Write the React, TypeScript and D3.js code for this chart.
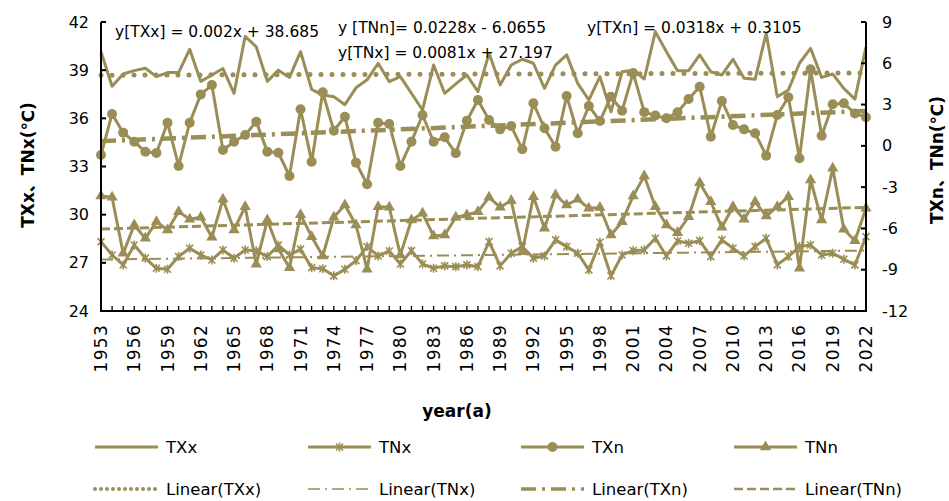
import React from 'react';
import * as d3 from 'd3';

// years on the category axis
const years = d3.range(1953, 2023);
const labelYears = years.filter((_, i) => i % 3 === 0);

// left axis series
const txx = [
  40.15, 38.0, 38.76, 38.97, 39.12, 38.6, 38.85, 38.85, 40.3, 38.3,
  38.7, 39.1, 37.56, 41.1, 40.46, 38.3, 39.0, 38.55, 40.15, 37.8,
  37.45, 37.35, 36.85, 37.9, 38.4, 39.43, 38.28, 38.6, 37.56, 36.52,
  39.32, 37.56, 38.14, 38.7, 37.66, 40.05, 38.08, 39.32, 39.68, 39.43,
  37.87, 39.32, 39.95, 38.18, 37.14, 38.6, 36.4, 38.9, 39.0, 38.45,
  41.4, 40.15, 38.97, 38.97, 39.95, 38.9, 38.7, 39.68, 38.5, 38.43,
  41.3, 37.35, 37.77, 39.43, 40.36, 38.55, 38.76, 37.87, 37.2, 40.46,
];
const tnx = [
  28.32, 27.49, 26.87, 28.11, 27.29, 26.66, 26.6, 27.39, 27.91, 27.49,
  27.18, 27.8, 27.29, 27.8, 27.75, 27.39, 28.1, 27.49, 27.85, 26.7,
  26.63, 26.19, 26.6, 27.14, 28.01, 27.43, 27.74, 26.93, 27.76, 26.93,
  26.66, 26.81, 26.76, 26.87, 26.76, 28.32, 26.81, 27.6, 28.01, 27.29,
  27.43, 28.43, 28.01, 27.6, 26.56, 28.28, 26.19, 27.49, 27.76, 27.8,
  28.53, 27.43, 28.36, 28.22, 28.38, 27.39, 28.43, 27.91, 27.43, 28.01,
  28.53, 26.87, 27.39, 28.01, 28.11, 27.49, 27.6, 27.22, 26.87, 28.63,
];

// right axis series
const txn = [
  -0.66, 2.32, 0.96, 0.3, -0.43, -0.52, 1.68, -1.46, 1.68, 3.74,
  4.42, -0.3, 0.3, 0.79, 1.76, -0.42, -0.5, -2.19, 2.66, -1.15,
  3.89, 1.1, 2.12, -1.22, -2.79, 1.68, 1.59, -1.46, 0.3, 2.24,
  0.3, 0.62, -0.54, 1.83, 3.33, 1.88, 1.2, 1.44, -0.25, 3.09,
  1.28, -0.06, 3.62, 0.91, 2.9, 1.8, 3.57, 2.55, 5.3, 2.45,
  2.2, 2.0, 2.44, 3.41, 4.3, 0.67, 3.26, 1.52, 1.2, 0.91,
  -0.71, 2.24, 3.53, -0.9, 5.56, 0.74, 3.02, 3.09, 2.36, 2.08,
];
const tnn = [
  -3.64, -3.74, -7.81, -5.75, -6.72, -5.51, -6.11, -4.78, -5.34, -5.19,
  -6.64, -3.88, -6.11, -4.42, -8.6, -5.39, -7.5, -8.85, -5.0, -6.6,
  -8.0, -5.19, -4.3, -5.75, -8.97, -4.42, -4.46, -7.93, -5.39, -4.9,
  -6.55, -6.48, -5.19, -5.02, -4.78, -3.74, -4.46, -3.98, -7.69, -3.69,
  -5.99, -3.57, -4.3, -3.88, -4.54, -4.48, -6.48, -5.51, -3.64, -2.19,
  -4.42, -5.75, -6.31, -5.15, -2.68, -4.06, -5.92, -4.42, -5.34, -4.06,
  -5.1, -4.42, -3.69, -8.9, -2.48, -5.39, -1.63, -6.06, -6.89, -4.54,
];

// trend equations shown on the chart, slope and intercept, x = 1..70
const trendTXx = [0.002, 38.685];
const trendTNx = [0.0081, 27.197];
const trendTXn = [0.0318, 0.3105];
const trendTNn = [0.0228, -6.0655];

const leftTicks = [24, 27, 30, 33, 36, 39, 42];
const rightTicks = [-12, -9, -6, -3, 0, 3, 6, 9];

const color = '#9A8D55';
const font = '"DejaVu Sans", "Noto Sans CJK SC", sans-serif';

const starPath = 'M-3.5,-3.5L3.5,3.5M-3.5,3.5L3.5,-3.5M0,-4.5L0,4.5';
const triPath = d3.symbol(d3.symbolTriangle, 55)()!;

const styles = {
  lTXx: { width: 5, dash: '0 11', cap: 'round' },
  lTNx: { width: 2, dash: '12 5 2 5', cap: 'butt' },
  lTXn: { width: 4.5, dash: '15 6 3 6', cap: 'butt' },
  lTNn: { width: 3, dash: '9 4', cap: 'butt' },
};

export default function App() {
  const x = d3.scalePoint<number>().domain(years).range([101, 866]);
  const yL = d3.scaleLinear().domain([24, 42]).range([311, 22]);
  const yR = d3.scaleLinear().domain([-12, 9]).range([311, 22]);

  const path = (vals: number[], y: d3.ScaleLinear<number, number>) =>
    d3.line<number>().x((_, i) => x(years[i])!).y(d => y(d))(vals)!;

  const trend = (c: number[], y: d3.ScaleLinear<number, number>) => {
    const n = years.length;
    return d3.line()([
      [x(years[0])!, y(c[0] * 1 + c[1])],
      [x(years[n - 1])!, y(c[0] * n + c[1])],
    ])!;
  };

  const legendCols = [95, 308, 521, 734];
  const legendRow1 = [
    { label: 'TXx', marker: null },
    { label: 'TNx', marker: 'star' },
    { label: 'TXn', marker: 'circle' },
    { label: 'TNn', marker: 'tri' },
  ];
  const legendRow2 = [
    { label: 'Linear(TXx)', st: styles.lTXx },
    { label: 'Linear(TNx)', st: styles.lTNx },
    { label: 'Linear(TXn)', st: styles.lTXn },
    { label: 'Linear(TNn)', st: styles.lTNn },
  ];

  const drawMarker = (kind: string | null, cx: number, cy: number, key: string | number) => {
    if (kind === 'star')
      return <path key={key} d={starPath} transform={`translate(${cx},${cy})`} stroke={color} strokeWidth={1.6} fill="none" />;
    if (kind === 'circle') return <circle key={key} cx={cx} cy={cy} r={5} fill={color} />;
    if (kind === 'tri') return <path key={key} d={triPath} transform={`translate(${cx},${cy})`} fill={color} />;
    return null;
  };

  return (
    <svg width={949} height={501} style={{ position: 'absolute', left: 0, top: 0, background: '#fff' }} fontFamily={font}>
      <rect width={949} height={501} fill="#fff" />

      {/* trend lines */}
      <path d={trend(trendTXx, yL)} stroke={color} fill="none" strokeWidth={styles.lTXx.width} strokeDasharray={styles.lTXx.dash} strokeLinecap="round" />
      <path d={trend(trendTNx, yL)} stroke={color} fill="none" strokeWidth={styles.lTNx.width} strokeDasharray={styles.lTNx.dash} />
      <path d={trend(trendTXn, yR)} stroke={color} fill="none" strokeWidth={styles.lTXn.width} strokeDasharray={styles.lTXn.dash} />
      <path d={trend(trendTNn, yR)} stroke={color} fill="none" strokeWidth={styles.lTNn.width} strokeDasharray={styles.lTNn.dash} />

      {/* series */}
      <path d={path(txx, yL)} stroke={color} fill="none" strokeWidth={3} strokeLinejoin="round" />
      <path d={path(tnx, yL)} stroke={color} fill="none" strokeWidth={3} strokeLinejoin="round" />
      {tnx.map((v, i) => drawMarker('star', x(years[i])!, yL(v), 'sx' + i))}
      <path d={path(txn, yR)} stroke={color} fill="none" strokeWidth={3} strokeLinejoin="round" />
      {txn.map((v, i) => drawMarker('circle', x(years[i])!, yR(v), 'cx' + i))}
      <path d={path(tnn, yR)} stroke={color} fill="none" strokeWidth={3} strokeLinejoin="round" />
      {tnn.map((v, i) => drawMarker('tri', x(years[i])!, yR(v), 'tx' + i))}

      {/* axes */}
      <g stroke="#000" strokeWidth={2} fill="none">
        <line x1={101} x2={101} y1={22} y2={311} />
        <line x1={866} x2={866} y1={22} y2={311} />
        <line x1={100} x2={867} y1={311} y2={311} />
        {leftTicks.map(t => <line key={'lt' + t} x1={101} x2={106} y1={yL(t)} y2={yL(t)} />)}
        {rightTicks.map(t => <line key={'rt' + t} x1={861} x2={866} y1={yR(t)} y2={yR(t)} />)}
        {years.map(yv => <line key={'bt' + yv} x1={x(yv)} x2={x(yv)} y1={311} y2={306} strokeWidth={1.3} />)}
      </g>

      {leftTicks.map(t => (
        <text key={'ll' + t} x={89} y={yL(t)} textAnchor="end" dominantBaseline="central" fontSize={16}>{t}</text>
      ))}
      {rightTicks.map(t => (
        <text key={'rl' + t} x={882} y={yR(t)} textAnchor="start" dominantBaseline="central" fontSize={16}>{t}</text>
      ))}
      {labelYears.map(yv => (
        <text key={'yl' + yv} transform={`translate(${x(yv)},${324}) rotate(-90)`} textAnchor="end" dominantBaseline="central" fontSize={17} letterSpacing={1.3}>{yv}</text>
      ))}

      {/* titles */}
      <text x={457} y={411} textAnchor="middle" dominantBaseline="central" fontSize={17} fontWeight="bold">year(a)</text>
      <text transform="translate(28,165) rotate(-90)" textAnchor="middle" dominantBaseline="central" fontSize={17} fontWeight="bold">TXx、TNx(℃)</text>
      <text transform="translate(937,160) rotate(-90)" textAnchor="middle" dominantBaseline="central" fontSize={17} fontWeight="bold">TXn、TNn(℃)</text>

      {/* trend equations */}
      <text x={115} y={37} fontSize={15.5}>y[TXx] = 0.002x + 38.685</text>
      <text x={338} y={33} fontSize={15.5}>y [TNn]= 0.0228x - 6.0655</text>
      <text x={338} y={58} fontSize={15.5}>y[TNx] = 0.0081x + 27.197</text>
      <text x={587} y={33} fontSize={15.5}>y[TXn] = 0.0318x + 0.3105</text>

      {/* legend */}
      {legendRow1.map((d, i) => (
        <g key={'lg1' + i}>
          <line x1={legendCols[i]} x2={legendCols[i] + 63} y1={447} y2={447} stroke={color} strokeWidth={3} />
          {drawMarker(d.marker, legendCols[i] + 31.5, 447, 'lm' + i)}
          <text x={legendCols[i] + 71} y={447} dominantBaseline="central" fontSize={16.5}>{d.label}</text>
        </g>
      ))}
      {legendRow2.map((d, i) => (
        <g key={'lg2' + i}>
          <line x1={legendCols[i]} x2={legendCols[i] + 63} y1={489} y2={489} stroke={color}
            strokeWidth={d.st.width * 0.8} strokeDasharray={i === 0 ? '0 6' : d.st.dash} strokeLinecap={d.st.cap as any} />
          <text x={legendCols[i] + 71} y={489} dominantBaseline="central" fontSize={16.5}>{d.label}</text>
        </g>
      ))}
    </svg>
  );
}
